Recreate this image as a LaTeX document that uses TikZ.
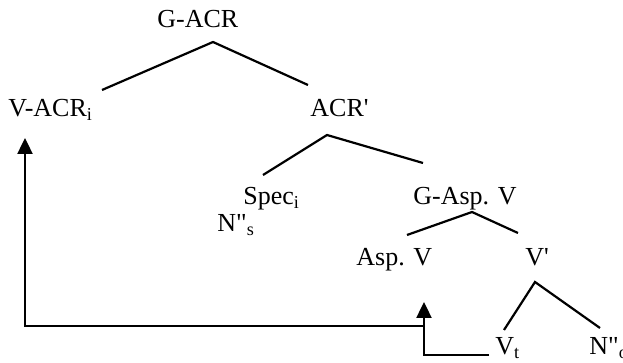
\documentclass[tikz,border=0pt]{standalone}
\usepackage{fontspec}
\setmainfont{Liberation Serif}
\usetikzlibrary{arrows.meta}

\begin{document}
\begin{tikzpicture}[
    x=0.5pt, y=-0.5pt,
    lbl/.style={anchor=base west, inner sep=0pt, font=\fontsize{13}{15}\selectfont},
    branch/.style={line width=1.1pt},
    move/.style={line width=1.2pt, -{Triangle[length=8pt, width=7.5pt]}}
  ]
    \useasboundingbox (0,0) rectangle (623,363);
    % labels
    \node[lbl] (gacr) at (157,28) {G-ACR};
    \node[lbl] (vacr) at (8,117) {V-ACR\textsubscript{i}};
    \node[lbl] (acr) at (310,117) {ACR\textquotesingle};
    \node[lbl] (spec) at (243,205) {Spec\textsubscript{i}};
    \node[lbl] (ns) at (217,232) {N\textquotedbl\textsubscript{s}};
    \node[lbl] (gasp) at (413,205) {G-Asp. V};
    \node[lbl] (asp) at (356,266) {Asp. V};
    \node[lbl] (vbar) at (525,266) {V\textquotesingle};
    \node[lbl] (vt) at (495,355) {V\textsubscript{t}};
    \node[lbl] (no) at (589,355) {N\textquotedbl\textsubscript{o}};
    % branch points
    \coordinate (gacr-b) at (213,42);
    \coordinate (vacr-t) at (102,90);
    \coordinate (acr-t) at (308,85);
    \coordinate (acr-b) at (327,135);
    \coordinate (spec-t) at (263,175);
    \coordinate (gasp-t) at (423,163);
    \coordinate (gasp-b) at (472,212);
    \coordinate (asp-t) at (407,235);
    \coordinate (vbar-t) at (518,233);
    \coordinate (vbar-b) at (535,282);
    \coordinate (vt-t) at (504,330);
    \coordinate (no-t) at (600,328);
    \draw[branch] (vacr-t) -- (gacr-b) -- (acr-t);
    \draw[branch] (spec-t) -- (acr-b) -- (gasp-t);
    \draw[branch] (asp-t) -- (gasp-b) -- (vbar-t);
    \draw[branch] (vt-t) -- (vbar-b) -- (no-t);
    % movement
    \coordinate (trace) at (424,302);
    \coordinate (land) at (25,138);
    \coordinate (fork) at (424,326);
    \draw[move] ([xshift=-3pt]vt.base west) -| (trace);
    \draw[move] (fork) -| (land);
\end{tikzpicture}
\end{document}
